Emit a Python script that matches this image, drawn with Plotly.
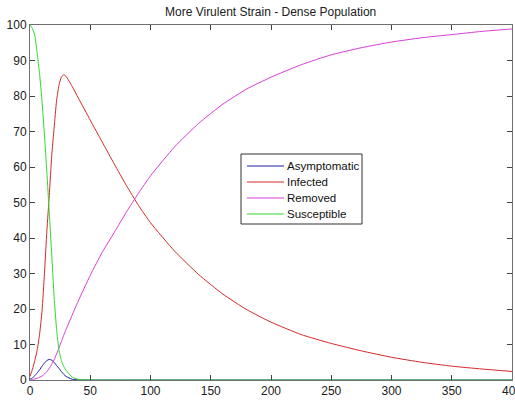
import plotly.graph_objects as go

t = [0, 2, 4, 6, 8, 10, 12, 14, 16, 18, 20, 22, 24, 26, 28, 30, 35, 40, 50, 60, 70,
     80, 90, 100, 120, 140, 160, 180, 200, 225, 250, 275, 300, 325, 350, 375, 400]

asymptomatic = [0.2, 0.6, 1.2, 2.0, 2.9, 3.9, 4.8, 5.5, 5.8, 5.6, 5.0, 4.1, 3.3, 2.4, 1.6, 1.0, 0.2, 0.05, 0, 0, 0,
                0, 0, 0, 0, 0, 0, 0, 0, 0, 0, 0, 0, 0, 0, 0, 0]
infected = [1.0, 3.0, 5.5, 8.5, 13.0, 19.5, 30.0, 42.0, 52.0, 63.0, 71.0, 78.5, 83.0, 85.3, 86.0, 85.5, 82.7, 79.5, 73.2, 67.0, 60.8,
            54.8, 49.2, 44.3, 36.3, 29.7, 24.2, 19.8, 16.3, 12.8, 10.3, 8.2, 6.4, 5.0, 3.9, 3.1, 2.4]
removed = [0.0, 0.1, 0.3, 0.5, 0.8, 1.1, 1.7, 2.4, 3.3, 4.4, 5.7, 7.3, 9.0, 10.8, 12.6, 14.3, 18.3, 22.2, 29.5, 36.0, 41.6,
           47.3, 52.6, 57.5, 65.7, 72.3, 77.7, 82.0, 85.3, 88.8, 91.6, 93.6, 95.2, 96.4, 97.3, 98.2, 98.9]
susceptible = [100.0, 99.0, 97.0, 92.0, 86.0, 78.5, 69.0, 58.5, 47.0, 35.5, 23.5, 14.5, 8.5, 5.5, 3.8, 2.7, 0.8, 0.2, 0, 0, 0,
               0, 0, 0, 0, 0, 0, 0, 0, 0, 0, 0, 0, 0, 0, 0, 0]

series_names = ["Asymptomatic", "Infected", "Removed", "Susceptible"]
series_values = [asymptomatic, infected, removed, susceptible]
series_colors = ["#1c1ca8", "#d42828", "#d83cd8", "#30d830"]

x_ticks = [0, 50, 100, 150, 200, 250, 300, 350, 400]
y_ticks = [0, 10, 20, 30, 40, 50, 60, 70, 80, 90, 100]

title_text = "More Virulent Strain - Dense Population"

W, H = 515, 400
ML, MR, MT, MB = 30, 3, 25, 20
PW, PH = W - ML - MR, H - MT - MB


def px_to_paper(px, py):
    return (px - ML) / PW, (H - MB - py) / PH


fig = go.Figure()
for name, vals, col in zip(series_names, series_values, series_colors):
    fig.add_trace(go.Scatter(x=t, y=vals, name=name, mode="lines", showlegend=False,
                             line=dict(color=col, width=1, shape="spline", smoothing=0.5)))

# legend box drawn in the MATLAB style (compact rows)
shapes = []
annotations = []
bx0, by0 = px_to_paper(241, 154)
bx1, by1 = px_to_paper(362, 224)
shapes.append(dict(type="rect", xref="paper", yref="paper", x0=bx0, x1=bx1, y0=by1, y1=by0,
                   line=dict(color="#303030", width=1), fillcolor="white", layer="above"))
row_y = [166, 182, 198, 214]
for name, col, ry in zip(series_names, series_colors, row_y):
    lx0, ly = px_to_paper(247, ry)
    lx1, _ = px_to_paper(284, ry)
    shapes.append(dict(type="line", xref="paper", yref="paper", x0=lx0, x1=lx1, y0=ly, y1=ly,
                       line=dict(color=col, width=1), layer="above"))
    tx, _ = px_to_paper(285, ry)
    annotations.append(dict(xref="paper", yref="paper", x=tx, y=ly, text=name, showarrow=False,
                            xanchor="left", yanchor="middle",
                            font=dict(family="Liberation Sans, Arial", size=11.5, color="#101010")))

ttx, tty = px_to_paper(270, 12)
annotations.append(dict(xref="paper", yref="paper", x=ttx, y=tty, text=title_text, showarrow=False,
                        xanchor="center", yanchor="middle",
                        font=dict(family="Liberation Sans, Arial", size=12, color="#202020")))

axis_common = dict(showline=True, linecolor="#707070", linewidth=1, mirror="ticks",
                   ticks="inside", ticklen=5, tickcolor="#404040", tickwidth=1,
                   showgrid=False, zeroline=False, automargin=False,
                   ticklabeloverflow="allow",
                   tickfont=dict(family="Liberation Sans, Arial", size=12, color="#202020"))

fig.update_layout(
    width=W, height=H,
    margin=dict(l=ML, r=MR, t=MT, b=MB),
    paper_bgcolor="white", plot_bgcolor="white",
    xaxis=dict(range=[0, 400], tickvals=x_ticks, ticktext=[str(v) for v in x_ticks], **axis_common),
    yaxis=dict(range=[0, 100], tickvals=y_ticks, ticktext=[str(v) for v in y_ticks], **axis_common),
    shapes=shapes,
    annotations=annotations,
    showlegend=False,
)

fig.write_html("out.html", config={"displayModeBar": False},
               post_script="document.body.style.margin='0';document.body.style.overflow='hidden';")
